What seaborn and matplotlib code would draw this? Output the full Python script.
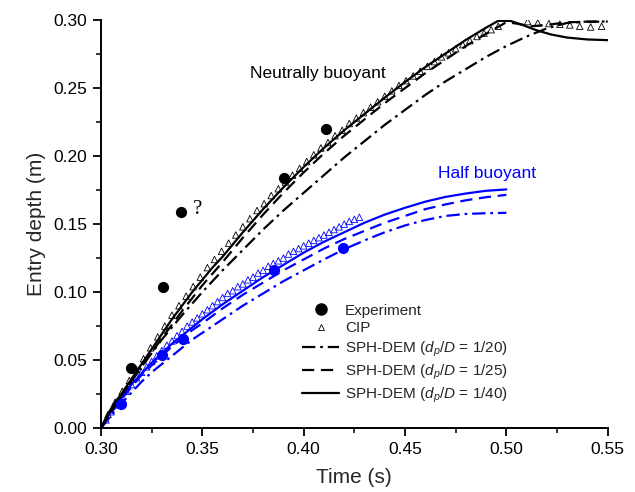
import numpy as np
import pandas as pd
import matplotlib
matplotlib.use("Agg")
import matplotlib.pyplot as plt
from matplotlib.lines import Line2D
import seaborn as sns

# ---------------- data ----------------
# Experiment
exp_neutral_t = [0.3148, 0.3306, 0.3394, 0.3902, 0.4108]
exp_neutral_d = [0.044, 0.104, 0.159, 0.184, 0.220]
exp_half_t = [0.3099, 0.3299, 0.3406, 0.3853, 0.4195]
exp_half_d = [0.0176, 0.0534, 0.0652, 0.1162, 0.1326]

# CIP, neutrally buoyant
cip_neutral_t = [0.3000, 0.3035, 0.3070, 0.3105, 0.3140, 0.3175, 0.3210, 0.3245,
                 0.3280, 0.3315, 0.3350, 0.3385, 0.3420, 0.3455, 0.3490, 0.3525,
                 0.3560, 0.3595, 0.3630, 0.3665, 0.3700, 0.3735, 0.3770, 0.3805,
                 0.3840, 0.3875, 0.3910, 0.3945, 0.3980, 0.4015, 0.4050, 0.4085,
                 0.4120, 0.4155, 0.4190, 0.4225, 0.4260, 0.4295, 0.4330, 0.4365,
                 0.4400, 0.4435, 0.4470, 0.4505, 0.4540, 0.4575, 0.4610, 0.4645,
                 0.4680, 0.4715, 0.4750, 0.4785, 0.4820, 0.4855, 0.4890, 0.4925,
                 0.4960, 0.5105, 0.5155, 0.5210, 0.5264, 0.5313, 0.5362, 0.5416,
                 0.5470]
cip_neutral_d = [0.000, 0.010, 0.019, 0.027, 0.035, 0.043, 0.051, 0.059,
                 0.067, 0.075, 0.083, 0.090, 0.097, 0.104, 0.111, 0.118,
                 0.124, 0.130, 0.136, 0.142, 0.148, 0.154, 0.160, 0.165,
                 0.171, 0.176, 0.181, 0.186, 0.191, 0.196, 0.201, 0.206,
                 0.210, 0.215, 0.219, 0.224, 0.228, 0.232, 0.236, 0.240,
                 0.244, 0.248, 0.252, 0.2555, 0.259, 0.2625, 0.266, 0.2695,
                 0.273, 0.276, 0.279, 0.282, 0.285, 0.288, 0.2905, 0.293,
                 0.2955, 0.2990, 0.2980, 0.2975, 0.2970, 0.2965, 0.2955, 0.2950,
                 0.2955]

# CIP, half buoyant
cip_half_t = [0.3000, 0.3025, 0.3050, 0.3075, 0.3100, 0.3125, 0.3150, 0.3175,
              0.3200, 0.3225, 0.3250, 0.3275, 0.3300, 0.3325, 0.3350, 0.3375,
              0.3400, 0.3425, 0.3450, 0.3475, 0.3500, 0.3525, 0.3550, 0.3575,
              0.3600, 0.3625, 0.3650, 0.3675, 0.3700, 0.3725, 0.3750, 0.3775,
              0.3800, 0.3825, 0.3850, 0.3875, 0.3900, 0.3925, 0.3950, 0.3975,
              0.4000, 0.4025, 0.4050, 0.4075, 0.4100, 0.4125, 0.4150, 0.4175,
              0.4200, 0.4225, 0.4250, 0.4275]
cip_half_d = [0.000, 0.006, 0.012, 0.017, 0.022, 0.027, 0.032, 0.037,
              0.041, 0.045, 0.049, 0.053, 0.057, 0.061, 0.064, 0.068,
              0.071, 0.075, 0.078, 0.081, 0.084, 0.087, 0.090, 0.093,
              0.096, 0.099, 0.101, 0.104, 0.106, 0.109, 0.111, 0.114,
              0.116, 0.119, 0.121, 0.123, 0.125, 0.128, 0.130, 0.132,
              0.134, 0.136, 0.138, 0.140, 0.142, 0.144, 0.146, 0.148,
              0.150, 0.152, 0.1535, 0.155]

# SPH-DEM, neutrally buoyant
sph_neutral_40_t = [0.300, 0.303, 0.306, 0.310, 0.315, 0.320, 0.325, 0.330, 0.335,
                    0.340, 0.345, 0.350, 0.355, 0.360, 0.370, 0.380, 0.390, 0.400,
                    0.410, 0.420, 0.430, 0.440, 0.450, 0.460, 0.470, 0.480, 0.490,
                    0.496, 0.502, 0.508, 0.515, 0.522, 0.530, 0.540, 0.550]
sph_neutral_40_d = [0.000, 0.009, 0.017, 0.025, 0.036, 0.047, 0.058, 0.069, 0.080,
                    0.090, 0.100, 0.109, 0.118, 0.126, 0.144, 0.161, 0.177, 0.192,
                    0.206, 0.219, 0.231, 0.243, 0.2545, 0.2655, 0.2755, 0.2855, 0.2945,
                    0.2995, 0.2995, 0.2965, 0.2925, 0.2895, 0.2872, 0.2858, 0.2853]
sph_neutral_25_t = [0.300, 0.310, 0.320, 0.330, 0.340, 0.350, 0.360, 0.370, 0.380,
                    0.390, 0.400, 0.410, 0.420, 0.430, 0.440, 0.450, 0.460, 0.470,
                    0.480, 0.490, 0.500, 0.505, 0.512, 0.520, 0.530, 0.550]
sph_neutral_25_d = [0.000, 0.024, 0.045, 0.066, 0.086, 0.105, 0.122, 0.140, 0.157,
                    0.173, 0.188, 0.202, 0.215, 0.227, 0.239, 0.250, 0.261, 0.271,
                    0.281, 0.290, 0.2985, 0.2975, 0.2955, 0.2965, 0.2985, 0.2990]
sph_neutral_20_t = [0.300, 0.310, 0.320, 0.330, 0.340, 0.350, 0.360, 0.370, 0.380,
                    0.390, 0.400, 0.410, 0.420, 0.430, 0.440, 0.450, 0.460, 0.470,
                    0.480, 0.490, 0.500, 0.510, 0.520, 0.530, 0.540, 0.550]
sph_neutral_20_d = [0.000, 0.024, 0.045, 0.065, 0.083, 0.100, 0.116, 0.131, 0.146,
                    0.160, 0.173, 0.186, 0.199, 0.211, 0.223, 0.234, 0.245, 0.255,
                    0.264, 0.273, 0.281, 0.288, 0.294, 0.298, 0.299, 0.299]

# SPH-DEM, half buoyant
sph_half_t = [0.300, 0.305, 0.310, 0.315, 0.320, 0.325, 0.330, 0.335, 0.340, 0.345,
              0.350, 0.360, 0.370, 0.380, 0.390, 0.400, 0.410, 0.420, 0.430, 0.440,
              0.450, 0.460, 0.470, 0.480, 0.490, 0.500]
sph_half_40_d = [0.000, 0.012, 0.022, 0.032, 0.040, 0.048, 0.055, 0.062, 0.068, 0.074,
                 0.080, 0.091, 0.101, 0.111, 0.120, 0.129, 0.137, 0.144, 0.151, 0.157,
                 0.162, 0.1665, 0.170, 0.1725, 0.1745, 0.1755]
sph_half_25_d = [0.000, 0.011, 0.021, 0.030, 0.039, 0.046, 0.053, 0.060, 0.066, 0.072,
                 0.077, 0.088, 0.098, 0.107, 0.116, 0.124, 0.132, 0.139, 0.145, 0.151,
                 0.156, 0.161, 0.1645, 0.1675, 0.1698, 0.1715]
sph_half_20_d = [0.000, 0.009, 0.018, 0.026, 0.034, 0.041, 0.047, 0.053, 0.059, 0.065,
                 0.070, 0.080, 0.090, 0.099, 0.108, 0.116, 0.124, 0.1315, 0.138, 0.144,
                 0.149, 0.153, 0.156, 0.1575, 0.158, 0.1583]

x_ticks = [0.30, 0.35, 0.40, 0.45, 0.50, 0.55]
y_ticks = [0.00, 0.05, 0.10, 0.15, 0.20, 0.25, 0.30]

# ---------------- style ----------------
sns.set_theme(style="ticks")
plt.rcParams["font.family"] = ["Liberation Sans", "DejaVu Sans"]
plt.rcParams["mathtext.fontset"] = "custom"
plt.rcParams["mathtext.rm"] = "Liberation Sans"
plt.rcParams["mathtext.it"] = "Liberation Sans:italic"

BLUE = "#0000ff"
BLACK = "#000000"
DASHDOT = (6, 2.2, 1.2, 2.2)
DASHED = (5.5, 3)

fig = plt.figure(figsize=(6.35, 4.92), dpi=100)
ax = fig.add_axes([0.159, 0.130, 0.798, 0.829])


def draw_line(t, d, color, dashes=None):
    df = pd.DataFrame({"t": t, "d": d})
    sns.lineplot(data=df, x="t", y="d", ax=ax, color=color, lw=1.6,
                 sort=False, estimator=None, legend=False)
    line = ax.lines[-1]
    if dashes is not None:
        line.set_dashes(dashes)
    line.set_dash_capstyle("butt")


# half buoyant (blue)
draw_line(sph_half_t, sph_half_20_d, BLUE, DASHDOT)
draw_line(sph_half_t, sph_half_25_d, BLUE, DASHED)
draw_line(sph_half_t, sph_half_40_d, BLUE)
sns.scatterplot(x=cip_half_t, y=cip_half_d, ax=ax, marker="^", s=22,
                facecolor="none", edgecolor=BLUE, linewidth=0.6, legend=False)
sns.scatterplot(x=exp_half_t, y=exp_half_d, ax=ax, marker="o", s=65,
                color=BLUE, edgecolor=BLUE, linewidth=0, legend=False, zorder=5)

# neutrally buoyant (black)
draw_line(sph_neutral_20_t, sph_neutral_20_d, BLACK, DASHDOT)
draw_line(sph_neutral_25_t, sph_neutral_25_d, BLACK, DASHED)
draw_line(sph_neutral_40_t, sph_neutral_40_d, BLACK)
sns.scatterplot(x=cip_neutral_t, y=cip_neutral_d, ax=ax, marker="^", s=22,
                facecolor="none", edgecolor=BLACK, linewidth=0.6, legend=False)
sns.scatterplot(x=exp_neutral_t, y=exp_neutral_d, ax=ax, marker="o", s=65,
                color=BLACK, edgecolor=BLACK, linewidth=0, legend=False, zorder=5)

# annotations
ax.text(0.3735, 0.261, "Neutrally buoyant", fontsize=12.5, color=BLACK,
        ha="left", va="center")
ax.text(0.4665, 0.187, "Half buoyant", fontsize=12.5, color=BLUE,
        ha="left", va="center")
ax.text(0.3455, 0.161, "?", fontsize=15, color=BLACK, ha="left", va="center",
        family=["Liberation Serif", "DejaVu Serif"])

# axes
ax.set_xlim(0.30, 0.55)
ax.set_ylim(0.0, 0.30)
ax.set_xticks(x_ticks)
ax.set_yticks(y_ticks)
ax.set_xticklabels([f"{v:.2f}" for v in x_ticks])
ax.set_yticklabels([f"{v:.2f}" for v in y_ticks])
ax.set_xticks(np.array(x_ticks[:-1]) + 0.025, minor=True)
ax.set_yticks(np.array(y_ticks[:-1]) + 0.025, minor=True)
ax.tick_params(which="major", direction="out", length=6, width=1.3,
               labelsize=12.5, colors=BLACK, pad=4)
ax.tick_params(which="minor", direction="out", length=3.5, width=1.1, colors=BLACK)
for side in ("top", "right"):
    ax.spines[side].set_visible(False)
for side in ("left", "bottom"):
    ax.spines[side].set_linewidth(1.4)
    ax.spines[side].set_color(BLACK)
ax.set_xlabel("Time (s)", fontsize=15, labelpad=8)
ax.set_ylabel("Entry depth (m)", fontsize=15, labelpad=5)

# legend
handles = [
    Line2D([], [], ls="none", marker="o", ms=8, color=BLACK),
    Line2D([], [], ls="none", marker="^", ms=4, mfc="none", mec=BLACK, mew=0.6),
    Line2D([], [], color=BLACK, lw=1.6, dashes=DASHDOT),
    Line2D([], [], color=BLACK, lw=1.6, dashes=DASHED),
    Line2D([], [], color=BLACK, lw=1.6),
]
labels = ["Experiment", "CIP",
          r"SPH-DEM ($d_p$/$D$ = 1/20)",
          r"SPH-DEM ($d_p$/$D$ = 1/25)",
          r"SPH-DEM ($d_p$/$D$ = 1/40)"]
ax.legend(handles, labels, loc="lower left", bbox_to_anchor=(0.385, 0.042),
          frameon=False, fontsize=11, handlelength=2.4, handletextpad=0.4,
          labelspacing=0.25, borderaxespad=0)

fig.savefig("out.png", dpi=100)
